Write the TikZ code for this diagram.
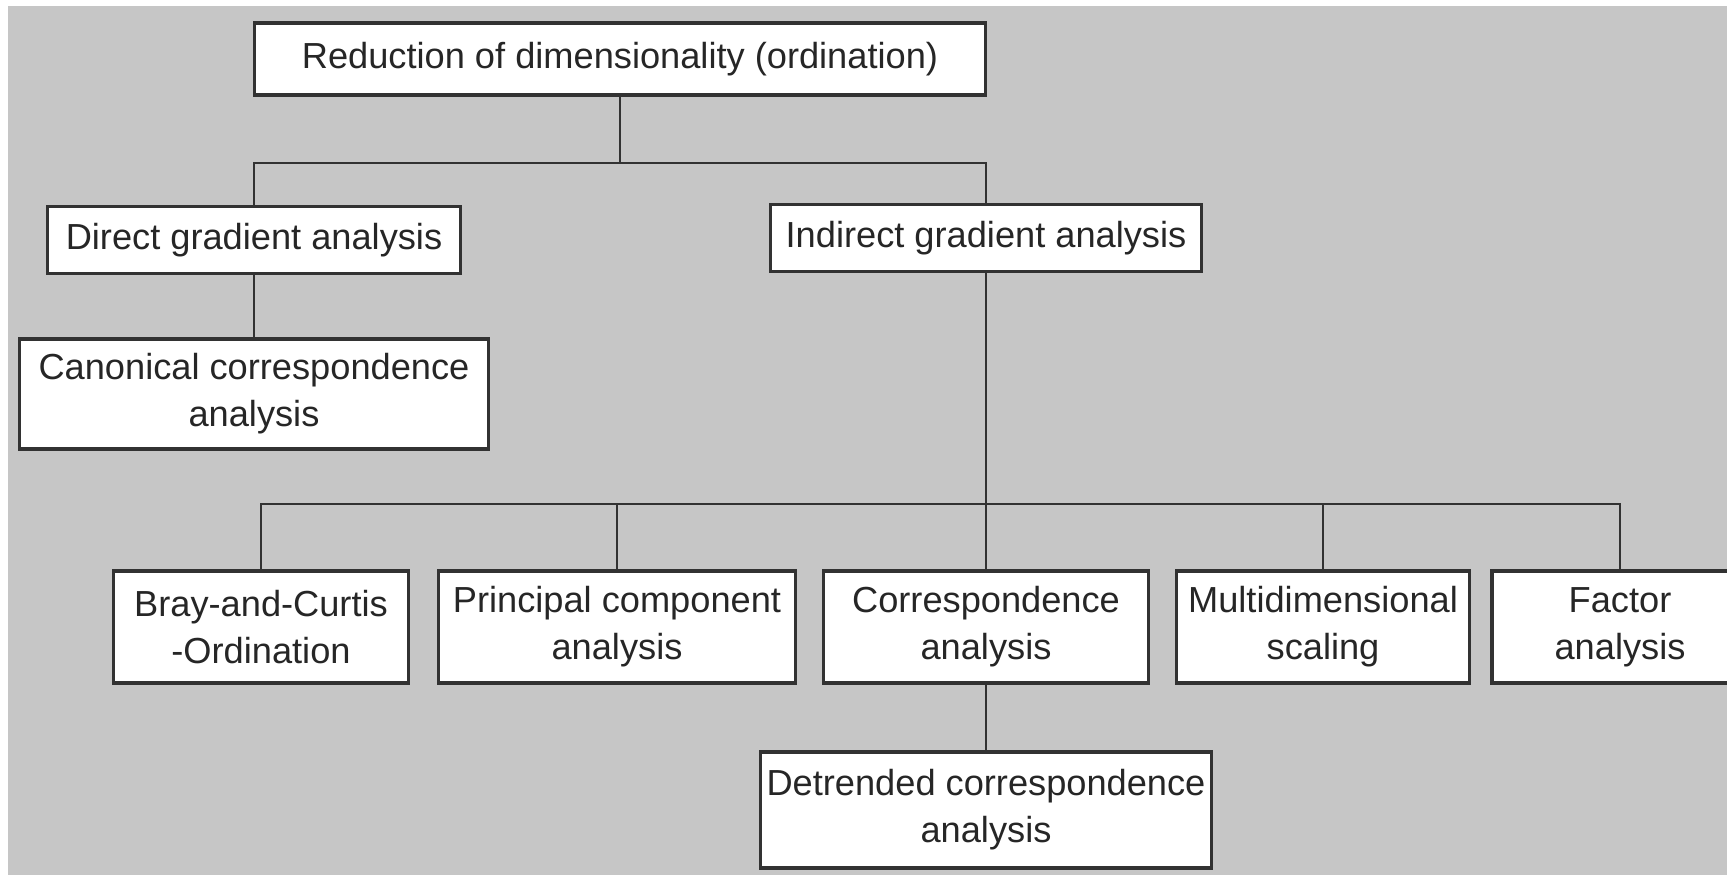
\documentclass[tikz,border=0pt]{standalone}
\usepackage{fontspec}
\setmainfont{Liberation Sans}
\definecolor{bggray}{RGB}{198,198,198}
\definecolor{inkgray}{RGB}{50,50,50}
\tikzset{
    box/.style={draw=inkgray, line width=0.9pt, fill=white, inner sep=0pt,
        align=center, text=black!85, font=\fontsize{10.3}{13.4}\selectfont},
    onerow/.style={box, minimum height=0.67cm},
    tworow/.style={box, minimum height=1.12cm},
    link/.style={draw=inkgray, line width=0.75pt}
}

\begin{document}
\begin{tikzpicture}[x=0.01cm, y=-0.01cm]
    \clip (0,0) rectangle (1727,875);
    \fill[white] (0,0) rectangle (1727,875);
    \fill[bggray] (8,6) rectangle (1727,875);

    % top and second level
    \node[onerow, minimum width=7.31cm, minimum height=0.72cm] (top) at (620,59) {Reduction of dimensionality (ordination)};
    \node[onerow, minimum width=4.13cm] (direct) at (254,240) {Direct gradient analysis};
    \node[onerow, minimum width=4.30cm] (indirect) at (986,238) {Indirect gradient analysis};
    \node[tworow, minimum width=4.68cm, minimum height=1.10cm] (canon) at (254,394) {Canonical correspondence\\analysis};

    % bottom row
    \node[tworow, minimum width=2.94cm] (bray) at (261,627) {Bray-and-Curtis\\-Ordination};
    \node[tworow, minimum width=3.57cm] (pca) at (617,627) {Principal component\\analysis};
    \node[tworow, minimum width=3.25cm] (corresp) at (986,627) {Correspondence\\analysis};
    \node[tworow, minimum width=2.93cm] (mds) at (1323,627) {Multidimensional\\scaling};
    \node[tworow, minimum width=2.56cm] (factor) at (1620,627) {Factor\\analysis};
    \node[tworow, minimum width=4.50cm, minimum height=1.16cm] (detrend) at (986,810) {Detrended correspondence\\analysis};

    \coordinate (split1) at (620,163);
    \coordinate (split2) at (986,504);

    \draw[link] (top.south) -- (split1) -| (direct.north);
    \draw[link] (split1) -| (indirect.north);
    \draw[link] (direct.south) -- (canon.north);
    \draw[link] (indirect.south) -- (split2) -- (corresp.north);
    \draw[link] (split2) -| (bray.north);
    \draw[link] (split2) -| (pca.north);
    \draw[link] (split2) -| (mds.north);
    \draw[link] (split2) -| (factor.north);
    \draw[link] (corresp.south) -- (detrend.north);
\end{tikzpicture}
\end{document}
